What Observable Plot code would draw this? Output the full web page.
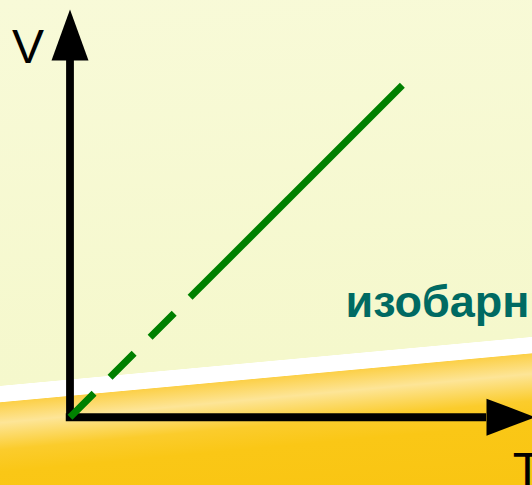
<!DOCTYPE html>
<html>
<head>
<meta charset="utf-8">
<script src="https://cdn.jsdelivr.net/npm/d3@7"></script>
<script src="https://cdn.jsdelivr.net/npm/@observablehq/plot@0.6"></script>
<style>
  html, body { margin: 0; padding: 0; overflow: hidden; background: #f7f9d5; }
  #chart svg { display: block; }
</style>
</head>
<body>
<div id="chart"></div>
<script>
// Axis extents (data units; 100 = arrow tip)
const axisT = [ -0.8, 89.5 ];   // horizontal axis shaft, T from .. to
const axisV = [ -1.0, 87.5 ];   // vertical axis shaft, V from .. to
const tipT = 100, tipV = 100;

// Isobaric line V ~ T : origin -> break (dashed) -> end (solid)
const lineT = [0, 25.8, 71.4];
const lineV = [0, 29.4, 81.4];

// Labels
const labels = [
  {T: -9.0, V: 86.8, text: "V", anchor: "middle", size: 48, weight: "normal", color: "black"},
  {T: 95.1, V: -16.9, text: "T", anchor: "start", size: 48, weight: "normal", color: "black"},
  {T: 59.2, V: 24.5, text: "изобарный", anchor: "start", size: 45, weight: "bold", color: "#006a62"}
];

const dashedPart = [0, 1].map(i => ({T: lineT[i], V: lineV[i]}));
const solidPart = [1, 2].map(i => ({T: lineT[i], V: lineV[i]}));

const upArrow = { draw(ctx) { ctx.moveTo(0, 0); ctx.lineTo(18.5, 51); ctx.lineTo(-18.5, 51); ctx.closePath(); } };
const rightArrow = { draw(ctx) { ctx.moveTo(0, 0); ctx.lineTo(-49, -18.5); ctx.lineTo(-49, 18.5); ctx.closePath(); } };

const bg = "linear-gradient(174.74deg, #f8fad8 0px, #f5f8cc 384px, #ffffff 384.6px, #ffffff 400.2px, #fcd048 401px, #fde597 421px, #fbcc2c 448px, #fac716 470px, #f9c512 100%)";

const plot = Plot.plot({
  width: 532,
  height: 485,
  margin: 0,
  x: {type: "linear", domain: [0, 100], range: [69.5, 535], axis: null},
  y: {type: "linear", domain: [0, 100], range: [416.7, 9], axis: null},
  style: {background: bg, fontFamily: "'Liberation Sans', Arial, sans-serif", overflow: "hidden"},
  marks: [
    Plot.ruleX([0], {y1: axisV[0], y2: axisV[1], stroke: "black", strokeWidth: 7.8}),
    Plot.ruleY([0], {x1: axisT[0], x2: axisT[1], stroke: "black", strokeWidth: 8}),
    Plot.dot([{T: 0, V: tipV}], {x: "T", y: "V", symbol: upArrow, fill: "black", stroke: "none", r: 10}),
    Plot.dot([{T: tipT, V: 0}], {x: "T", y: "V", symbol: rightArrow, fill: "black", stroke: "none", r: 10}),
    Plot.line(dashedPart, {x: "T", y: "V", stroke: "#008000", strokeWidth: 7, strokeLinecap: "butt", strokeDasharray: "34,22.6"}),
    Plot.line(solidPart, {x: "T", y: "V", stroke: "#008000", strokeWidth: 7, strokeLinecap: "butt"}),
    ...labels.map(l => Plot.text([l], {
      x: "T", y: "V", text: "text", textAnchor: l.anchor, lineAnchor: "bottom",
      fontSize: l.size, fontWeight: l.weight, fill: l.color
    }))
  ]
});
document.getElementById("chart").appendChild(plot);
</script>
</body>
</html>
